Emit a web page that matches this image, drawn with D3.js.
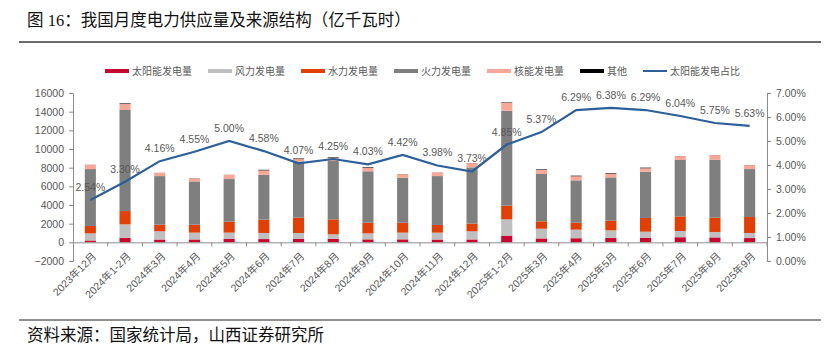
<!DOCTYPE html>
<html>
<head>
<meta charset="utf-8">
<script src="https://cdn.jsdelivr.net/npm/d3@7/dist/d3.min.js"></script>
<style>
  html, body { margin: 0; padding: 0; background: #fff; }
  svg { display: block; }
</style>
</head>
<body>
<svg id="chart" width="840" height="349"></svg>
<script>
// Monthly power supply by source (亿千瓦时) and solar share
const categories = ["2023年12月","2024年1-2月","2024年3月","2024年4月","2024年5月","2024年6月","2024年7月","2024年8月","2024年9月","2024年10月","2024年11月","2024年12月","2025年1-2月","2025年3月","2025年4月","2025年5月","2025年6月","2025年7月","2025年8月","2025年9月"];
const solar   = [200, 480, 300, 310, 360, 350, 360, 380, 320, 320, 300, 310, 720, 420, 440, 470, 500, 550, 530, 460];
const wind    = [760, 1450, 880, 730, 680, 650, 640, 480, 640, 720, 740, 870, 1740, 1040, 920, 820, 640, 660, 580, 540];
const hydro   = [790, 1420, 710, 850, 1170, 1430, 1640, 1600, 1150, 1070, 820, 820, 1470, 790, 750, 1030, 1470, 1570, 1530, 1710];
const thermal = [6100, 10830, 5210, 4640, 4570, 4820, 6030, 6250, 5500, 4820, 5240, 6030, 10170, 5070, 4530, 4640, 4960, 6040, 6210, 5140];
const nuclear = [460, 650, 340, 340, 450, 460, 250, 330, 390, 380, 390, 460, 840, 430, 440, 400, 370, 420, 490, 420];
const other   = [10, 60, 10, 10, 10, 60, 60, 60, 60, 10, 10, 10, 50, 60, 60, 60, 60, 10, 10, 10];
const solarShare = [2.54, 3.30, 4.16, 4.55, 5.00, 4.58, 4.07, 4.25, 4.03, 4.42, 3.98, 3.73, 4.85, 5.37, 6.29, 6.38, 6.29, 6.04, 5.75, 5.63];

const leftTicks  = [-2000, 0, 2000, 4000, 6000, 8000, 10000, 12000, 14000, 16000];
const rightTicks = [0, 1, 2, 3, 4, 5, 6, 7];

const seriesNames  = ["太阳能发电量", "风力发电量", "水力发电量", "火力发电量", "核能发电量", "其他"];
const seriesColors = ["#C8072F", "#BFBFBF", "#E03F06", "#7F7F7F", "#F9A796", "#000000"];
const lineName  = "太阳能发电占比";
const lineColor = "#2D5F99";

const titleText  = "图 16：我国月度电力供应量及来源结构（亿千瓦时）";
const sourceText = "资料来源：国家统计局，山西证券研究所";

const rows = categories.map((c, i) => ({
  cat: c, s0: solar[i], s1: wind[i], s2: hydro[i], s3: thermal[i], s4: nuclear[i], s5: other[i]
}));
const keys = ["s0", "s1", "s2", "s3", "s4", "s5"];

const svg = d3.select("#chart");
const cjk = "'Liberation Sans', Arial, 'Noto Sans CJK SC', sans-serif";
const axisGray = "#8C8C8C";
const textGray = "#595959";

svg.append("rect").attr("width", 840).attr("height", 349).attr("fill", "#fff");

// Header and footer
svg.append("text").attr("x", 27).attr("y", 26)
  .attr("font-family", "'Liberation Serif', 'Noto Sans CJK SC', serif")
  .attr("font-size", 16.5).attr("fill", "#111").text(titleText);
svg.append("line").attr("x1", 19).attr("x2", 821).attr("y1", 42).attr("y2", 42)
  .attr("stroke", "#3a3a3a").attr("stroke-width", 1.3);
svg.append("line").attr("x1", 19).attr("x2", 821).attr("y1", 320).attr("y2", 320)
  .attr("stroke", "#6a6a6a").attr("stroke-width", 1.3);
svg.append("text").attr("x", 27).attr("y", 341)
  .attr("font-family", "'Liberation Serif', 'Noto Sans CJK SC', serif")
  .attr("font-size", 16.5).attr("fill", "#111").text(sourceText);

// Scales
const x = d3.scaleBand().domain(categories).range([73, 767]).paddingInner(0.68).paddingOuter(0.34);
const y = d3.scaleLinear().domain([-2000, 16000]).range([261, 93]);
const yR = d3.scaleLinear().domain([0, 7]).range([261, 93]);

// Stacked bars
const stacked = d3.stack().keys(keys)(rows);
svg.append("g").selectAll("g").data(stacked).join("g")
  .attr("fill", (d, i) => seriesColors[i])
  .selectAll("rect").data(d => d).join("rect")
  .attr("x", d => x(d.data.cat))
  .attr("width", x.bandwidth())
  .attr("y", d => y(d[1]))
  .attr("height", d => Math.max(0, y(d[0]) - y(d[1])));

// Left axis
const gL = svg.append("g").attr("transform", "translate(73,0)")
  .call(d3.axisLeft(y).tickValues(leftTicks).tickFormat(d3.format("d")).tickSize(4).tickPadding(5).tickSizeOuter(0));
// Right axis
const gR = svg.append("g").attr("transform", "translate(767,0)")
  .call(d3.axisRight(yR).tickValues(rightTicks).tickFormat(d => d.toFixed(2) + "%").tickSize(4).tickPadding(5).tickSizeOuter(0));
[gL, gR].forEach(g => {
  g.select(".domain").attr("stroke", axisGray);
  g.selectAll(".tick line").attr("stroke", axisGray);
  g.selectAll("text").attr("fill", textGray).attr("font-size", 10.5).attr("font-family", cjk);
});

// Category axis on the zero line
const gX = svg.append("g").attr("transform", `translate(0,${y(0)})`)
  .call(d3.axisBottom(x).tickSize(0).tickPadding(0).tickSizeOuter(0));
gX.select(".domain").attr("stroke", axisGray);
gX.selectAll(".tick text")
  .attr("fill", textGray).attr("font-size", 10.5).attr("font-family", cjk)
  .attr("text-anchor", "end")
  .attr("transform", "translate(4,12) rotate(-45)")
  .attr("dy", "0.35em");
// boundary ticks between categories
const bounds = categories.map(c => x(c) + x.bandwidth() / 2 + x.step() / 2);
gX.selectAll(".bound").data(bounds).join("line").attr("class", "bound")
  .attr("x1", d => d).attr("x2", d => d).attr("y1", 0).attr("y2", 4)
  .attr("stroke", axisGray);

// Solar share line
const cx = c => x(c) + x.bandwidth() / 2;
const line = d3.line().x((d, i) => cx(categories[i])).y(d => yR(d));
svg.append("path").datum(solarShare).attr("d", line)
  .attr("fill", "none").attr("stroke", lineColor).attr("stroke-width", 2.2);
svg.append("g").selectAll("text").data(solarShare).join("text")
  .attr("x", (d, i) => cx(categories[i]))
  .attr("y", d => yR(d) - 9)
  .attr("text-anchor", "middle")
  .attr("font-size", 10.5).attr("font-family", cjk).attr("fill", textGray)
  .text(d => d.toFixed(2) + "%");

// Legend
const legendX = [105, 208, 301, 394, 487, 580];
const lg = svg.append("g");
seriesNames.forEach((n, i) => {
  lg.append("rect").attr("x", legendX[i]).attr("y", 69).attr("width", 24).attr("height", 4).attr("fill", seriesColors[i]);
  lg.append("text").attr("x", legendX[i] + 27).attr("y", 74.5)
    .attr("font-size", 10).attr("font-family", cjk).attr("fill", textGray).text(n);
});
lg.append("line").attr("x1", 643).attr("x2", 667).attr("y1", 71).attr("y2", 71)
  .attr("stroke", lineColor).attr("stroke-width", 2);
lg.append("text").attr("x", 670).attr("y", 74.5)
  .attr("font-size", 10).attr("font-family", cjk).attr("fill", textGray).text(lineName);
</script>
</body>
</html>
